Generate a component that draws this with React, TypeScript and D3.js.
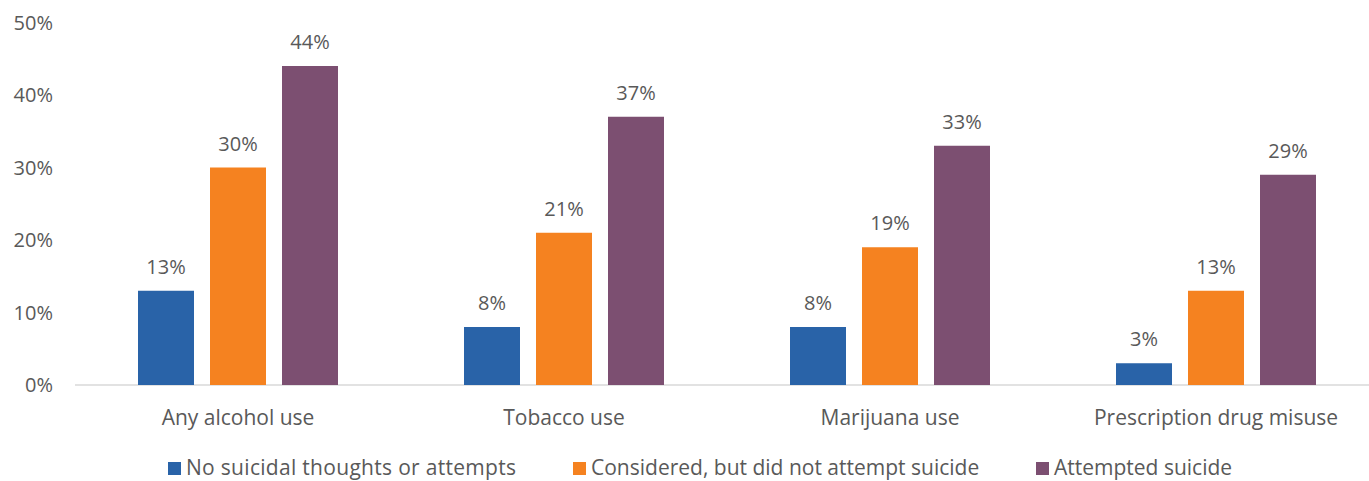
import React from "react";
import * as d3 from "d3";

const categories = ["Any alcohol use", "Tobacco use", "Marijuana use", "Prescription drug misuse"];
const seriesNames = ["No suicidal thoughts or attempts", "Considered, but did not attempt suicide", "Attempted suicide"];
const noThoughts = [13, 8, 8, 3];
const considered = [30, 21, 19, 13];
const attempted = [44, 37, 33, 29];
const yTicks = [0, 10, 20, 30, 40, 50];
const colors = ["#2963A8", "#F58220", "#7C4F71"];

const seriesValues = [noThoughts, considered, attempted];

const W = 1369;
const H = 481;
const FONT = "'Open Sans', sans-serif";
const TXT = "#595959";

export default function App() {
  const x0 = d3.scaleBand<string>().domain(categories).range([75, 1379]).paddingInner(0).paddingOuter(0);
  const groupW = 200;
  const x1 = d3.scaleBand<string>().domain(seriesNames).range([0, groupW]).paddingInner(16 / 72).paddingOuter(0);
  const y = d3.scaleLinear().domain([0, 50]).range([385, 22.5]);

  const legendItems = [
    { x: 168, name: seriesNames[0], color: colors[0], ls: 0.3 },
    { x: 573, name: seriesNames[1], color: colors[1], ls: 0 },
    { x: 1036, name: seriesNames[2], color: colors[2], ls: 0 },
  ];

  return (
    <svg width={W} height={H} style={{ position: "absolute", left: 0, top: 0, background: "#fff" }} fontFamily={FONT}>
      {yTicks.map((t) => (
        <text key={t} x={53} y={y(t)} dy="0.35em" textAnchor="end" fontSize={20} fill={TXT}>
          {t}%
        </text>
      ))}
      <line x1={75} x2={1369} y1={y(0)} y2={y(0)} stroke="#D9D9D9" strokeWidth={1.5} />
      {categories.map((c, ci) => {
        const gx = (x0(c) as number) + (x0.bandwidth() - groupW) / 2;
        return (
          <g key={c}>
            {seriesNames.map((s, si) => {
              const v = seriesValues[si][ci];
              const bx = gx + (x1(s) as number);
              return (
                <g key={s}>
                  <rect x={bx} y={y(v)} width={x1.bandwidth()} height={y(0) - y(v)} fill={colors[si]} />
                  <text x={bx + x1.bandwidth() / 2} y={y(v) - 17} textAnchor="middle" fontSize={20} fill={TXT}>
                    {v}%
                  </text>
                </g>
              );
            })}
            <text x={(x0(c) as number) + x0.bandwidth() / 2} y={418} dy="0.35em" textAnchor="middle" fontSize={21} fill={TXT}>
              {c}
            </text>
          </g>
        );
      })}
      {legendItems.map((l) => (
        <g key={l.name}>
          <rect x={l.x} y={462} width={13} height={13} fill={l.color} />
          <text x={l.x + 18} y={468} dy="0.35em" fontSize={21} fill={TXT} letterSpacing={l.ls}>
            {l.name}
          </text>
        </g>
      ))}
    </svg>
  );
}
